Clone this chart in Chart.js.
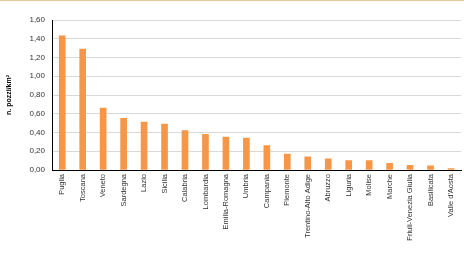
<!DOCTYPE html>
<html>
<head>
<meta charset="utf-8">
<script src="https://cdn.jsdelivr.net/npm/chart.js@4/dist/chart.umd.min.js"></script>
<style>
  html, body { margin: 0; padding: 0; background: #fff; }
  #wrap { position: relative; width: 464px; height: 255px; }
  #topline { position: absolute; left: 0; top: 0; width: 464px; height: 1px; background: #e6c79c; }
</style>
</head>
<body>
<div id="wrap">
  <canvas id="barChartPozzi" width="464" height="255"></canvas>
  <div id="topline"></div>
</div>
<script>
var regioni = ['Puglia', 'Toscana', 'Veneto', 'Sardegna', 'Lazio', 'Sicilia', 'Calabria', 'Lombardia',
  'Emilia-Romagna', 'Umbria', 'Campania', 'Piemonte', 'Trentino-Alto Adige', 'Abruzzo', 'Liguria',
  'Molise', 'Marche', 'Friuli-Venezia Giulia', 'Basilicata', "Valle d'Aosta"];
var densita = [1.43, 1.29, 0.66, 0.55, 0.51, 0.49, 0.42, 0.38, 0.35, 0.34, 0.26, 0.17, 0.14, 0.12,
  0.10, 0.10, 0.07, 0.05, 0.045, 0.015];
var yTicks = [0, 0.2, 0.4, 0.6, 0.8, 1.0, 1.2, 1.4, 1.6];

(function () {
  "use strict";

  var ctx = document.getElementById('barChartPozzi').getContext('2d');
  var fontFamily = "'Liberation Sans', Arial, sans-serif";

  new Chart(ctx, {
    type: 'bar',
    data: {
      labels: regioni,
      datasets: [{
        label: 'n. pozzi/km²',
        data: densita,
        backgroundColor: '#f79646',
        borderWidth: 0,
        barThickness: 6
      }]
    },
    options: {
      responsive: false,
      animation: false,
      layout: {
        padding: { top: 20, right: 0, left: 5, bottom: 0 }
      },
      plugins: {
        legend: { display: false },
        tooltip: { enabled: false }
      },
      scales: {
        x: {
          grid: { display: false, drawTicks: false, tickLength: 0 },
          border: { display: true, color: '#000', width: 1 },
          ticks: {
            autoSkip: false,
            maxRotation: 90,
            minRotation: 90,
            padding: 4,
            color: '#333',
            font: { family: fontFamily, size: 7.5 }
          },
          afterFit: function (scale) {
            scale.height = 85;
          }
        },
        y: {
          min: 0,
          max: 1.6,
          afterBuildTicks: function (scale) {
            scale.ticks = yTicks.map(function (v) { return { value: v }; });
          },
          grid: { color: '#d9d9d9', lineWidth: 1, drawTicks: false },
          border: { display: true, color: '#000', width: 1 },
          ticks: {
            padding: 7,
            color: '#333',
            font: { family: fontFamily, size: 8 },
            callback: function (value) {
              return value.toFixed(2).replace('.', ',');
            }
          },
          title: {
            display: true,
            text: 'n. pozzi/km²',
            color: '#000',
            padding: { top: 0, bottom: 10 },
            font: { family: fontFamily, size: 7, weight: 'bold' }
          },
          afterFit: function (scale) {
            scale.width = 47;
          }
        }
      }
    }
  });
})();
</script>
</body>
</html>
